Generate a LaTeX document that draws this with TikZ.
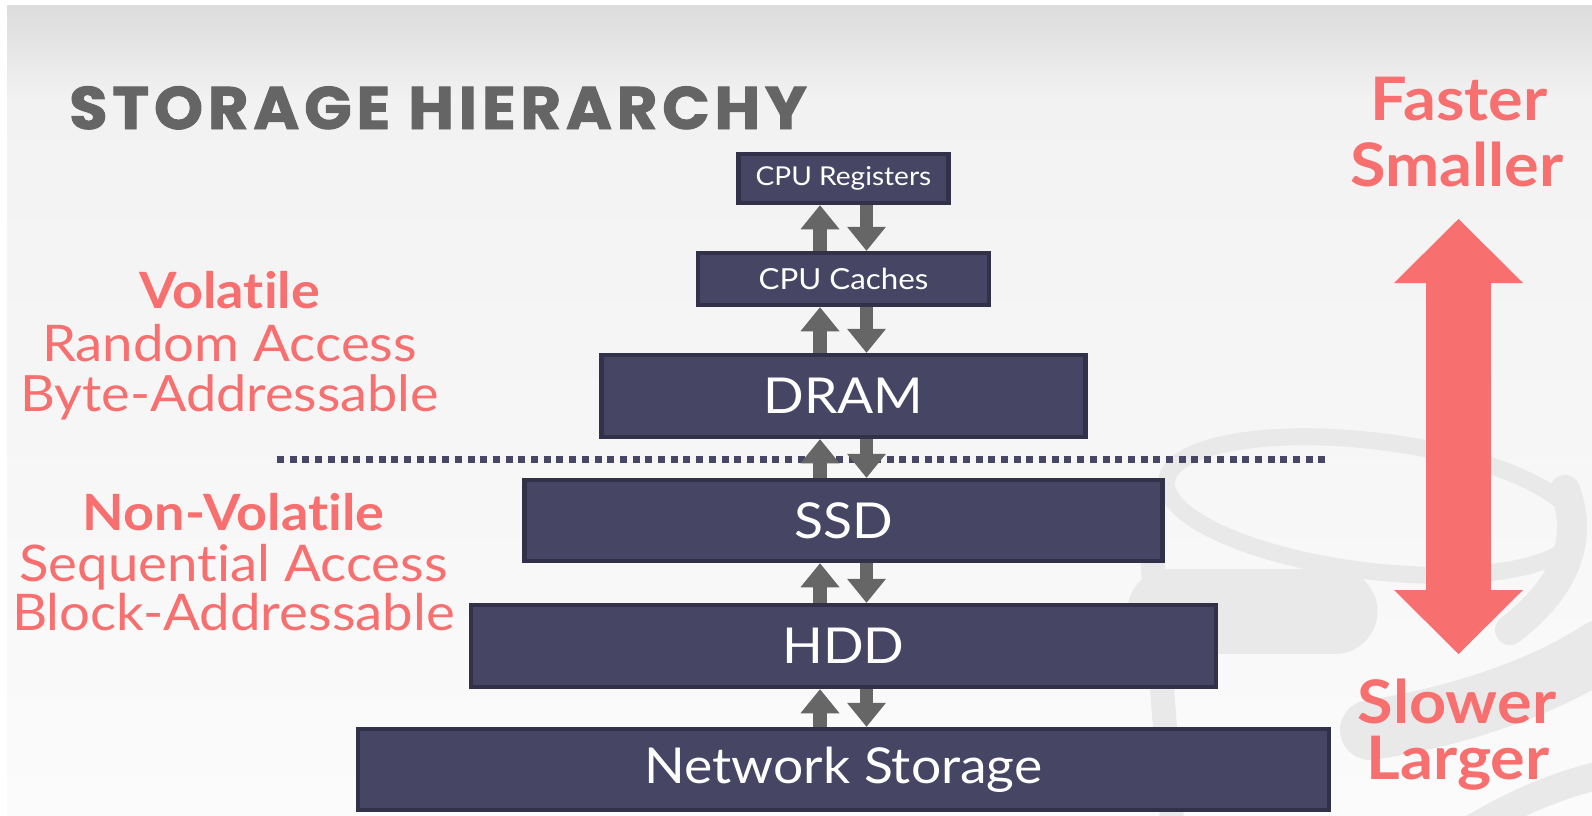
\documentclass[tikz,border=0pt]{standalone}
\usepackage{fontspec}
\setmainfont{Lato}[FakeStretch=1.08, Ligatures=NoCommon]
\newfontfamily\titlefont{Poppins}[LetterSpace=8, FakeStretch=1.04, FakeBold=1.5]
\usetikzlibrary{arrows.meta}
\definecolor{boxfill}{HTML}{464664}
\definecolor{boxline}{HTML}{31314A}
\definecolor{arrowgray}{HTML}{666666}
\definecolor{redtext}{HTML}{F76F6F}
\definecolor{titlegray}{HTML}{656565}
\definecolor{logogray}{HTML}{E9E9E9}
\definecolor{dotblue}{HTML}{474765}
\definecolor{bgtop}{HTML}{DCDCDC}
\definecolor{bgmid}{HTML}{F2F2F2}
\definecolor{bgbot}{HTML}{FBFBFB}
\begin{document}
\begin{tikzpicture}[x=1pt,y=-1pt,
  tier/.style={draw=boxline, fill=boxfill, line width=4.5pt, text=white, inner sep=0pt, minimum width=#1},
  flow/.style={draw=arrowgray, line width=13.5pt, -{Triangle[width=39pt,length=24pt,line width=0pt]}},
  redlbl/.style={text=redtext, anchor=base, inner sep=0pt},
  logo/.style={draw=logogray, line cap=round}
]
\useasboundingbox (0,0) rectangle (1592,816);
\fill[white] (0,0) rectangle (1592,816);
\shade[top color=bgtop, bottom color=bgmid] (7,6) rectangle (1592,100);
\shade[top color=bgmid, bottom color=bgbot] (7,100) rectangle (1592,816);

% faint background logo
\draw[logo, line width=17pt, rotate around={-7:(1372,506)}] (1372,506) ellipse [x radius=207, y radius=65];
\draw[logo, line width=24pt] (1150,530) -- (1172,820);
\draw[logo, line width=85pt] (1170,611) -- (1335,611);
\draw[logo, line width=60pt] (1370,730) .. controls (1450,718) and (1540,690) .. (1600,650);
\draw[logo, line width=30pt] (1565,490) .. controls (1580,530) and (1575,580) .. (1510,630);
\draw[logo, line width=28pt] (1470,830) .. controls (1520,800) and (1560,785) .. (1600,775);

% title
\node[anchor=base west, inner sep=0pt, text=titlegray, font=\titlefont\bfseries\fontsize{60}{60}\selectfont] (title) at (69,129) {STORAGE HIERARCHY};

% dotted separator
\coordinate (dl) at (277,459);
\coordinate (dr) at (1328,459);
\draw[dotblue, line width=7pt, dash pattern=on 7pt off 5.7pt] (dl) -- (dr);

% tiers
\node[tier=210, minimum height=49, font=\fontsize{26}{26}\selectfont] (regs) at (843.5,178.5) {CPU Registers};
\node[tier=291, minimum height=52, font=\fontsize{29}{29}\selectfont] (caches) at (843.5,279) {CPU Caches};
\node[tier=484, minimum height=82, font=\fontsize{49.5}{49.5}\selectfont] (dram) at (843.5,396) {DRAM};
\node[tier=638, minimum height=81, font=\fontsize{49.5}{49.5}\selectfont] (ssd) at (843.5,520.5) {SSD};
\node[tier=745, minimum height=82, font=\fontsize{49.5}{49.5}\selectfont] (hdd) at (843.5,646) {HDD};
\node[tier=971, minimum height=81, font=\fontsize{49.5}{49.5}\selectfont] (net) at (843.5,769.5) {Network Storage};

% up/down arrows
\foreach \lo/\hi in {caches/regs, dram/caches, ssd/dram, hdd/ssd, net/hdd} {
  \draw[flow] ([xshift=-23.5pt]\lo.north) -- ([xshift=-23.5pt]\hi.south);
  \draw[flow] ([xshift=23pt]\hi.south) -- ([xshift=23pt]\lo.north);
}

% left labels
\node[redlbl, font=\bfseries\fontsize{50}{50}\selectfont] (vol) at (229.5,308) {Volatile};
\node[redlbl, font=\fontsize{50.5}{50.5}\selectfont] (ra) at (229.5,361) {Random Access};
\node[redlbl, font=\fontsize{50}{50}\selectfont] (ba) at (229.5,411) {Byte-Addressable};
\node[redlbl, font=\bfseries\fontsize{50}{50}\selectfont] (nvol) at (233.5,530) {Non-Volatile};
\node[redlbl, font=\fontsize{50.5}{50.5}\selectfont] (sa) at (233.5,581) {Sequential Access};
\node[redlbl, font=\fontsize{50.5}{50.5}\selectfont] (bla) at (233.5,630) {Block-Addressable};

% right labels
\node[redlbl, font=\bfseries\fontsize{60}{60}\selectfont] (faster) at (1459,120) {Faster};
\node[redlbl, font=\bfseries\fontsize{60}{60}\selectfont] (smaller) at (1457,186) {Smaller};
\node[redlbl, font=\bfseries\fontsize{60}{60}\selectfont] (slower) at (1457,723) {Slower};
\node[redlbl, font=\bfseries\fontsize{60}{60}\selectfont] (larger) at (1458,779) {Larger};

% big double arrow
\coordinate (ftop) at (1458.5,219);
\coordinate (fbot) at (1458.5,654);
\draw[draw=redtext, line width=65pt,
  {Triangle[width=129pt,length=64pt,line width=0pt]}-{Triangle[width=129pt,length=64pt,line width=0pt]}] (ftop) -- (fbot);
\end{tikzpicture}
\end{document}
